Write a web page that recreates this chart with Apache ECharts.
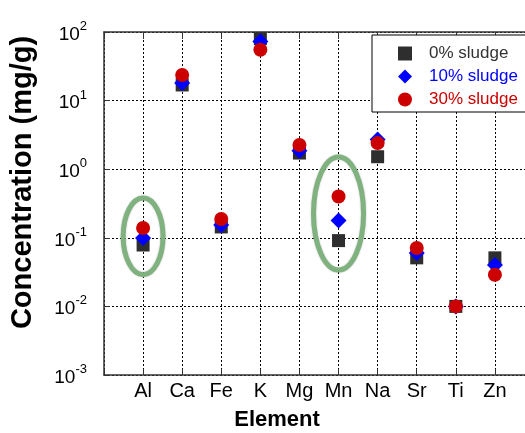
<!DOCTYPE html>
<html><head><meta charset="utf-8">
<script src="https://cdn.jsdelivr.net/npm/echarts@6/dist/echarts.min.js"></script>
<style>html,body{margin:0;padding:0;background:#fff}#c{width:525px;height:433px}</style>
</head><body><div id="c"></div>
<script>
// ---- data ----
const elements = ['Al','Ca','Fe','K','Mg','Mn','Na','Sr','Ti','Zn'];
const sludge0  = [0.0785, 16.9, 0.144, 80, 1.72, 0.091, 1.52, 0.051, 0.010, 0.051];
const sludge10 = [0.099,  18.0, 0.154, 73, 1.86, 0.178, 2.70, 0.060, 0.010, 0.040];
const sludge30 = [0.139,  23.6, 0.188, 55, 2.25, 0.40,  2.40, 0.071, 0.010, 0.029];
const seriesNames = ['0% sludge','10% sludge','30% sludge'];
const yTickValues = [0.001, 0.01, 0.1, 1, 10, 100];
// highlighted elements (green ellipses), value range covered
const highlightElements = ['Al','Mn'];
const highlightLow  = [0.029, 0.034];
const highlightHigh = [0.38, 1.51];

// ---- chart ----
const FONT = '"Liberation Sans", Arial, sans-serif';
const cats = [''].concat(elements, ['']);
const chart = echarts.init(document.getElementById('c'), null, {renderer:'canvas'});
const dotted = {color:'#000', width:1, type:[2,2]};
const axisLine = {show:true, lineStyle:{color:'#333', width:1.5}};
function pairs(vals){ return elements.map((e,i)=>[e, vals[i]]); }

const option = {
  animation:false,
  backgroundColor:'#fff',
  textStyle:{fontFamily:FONT},
  grid:{left:104, top:32, width:430, height:343, containLabel:false, outerBoundsMode:'none'},
  legend:{
    orient:'vertical', left:372, top:35,
    backgroundColor:'#fff', borderColor:'#000', borderWidth:1,
    padding:[10,50,4,26], itemGap:6, itemWidth:14, itemHeight:14,
    textStyle:{fontFamily:FONT, fontSize:17, padding:[0,0,0,12]},
    data:[
      {name:seriesNames[0], icon:'rect', textStyle:{color:'#333'}},
      {name:seriesNames[1], icon:'diamond', textStyle:{color:'#0000ff'}},
      {name:seriesNames[2], icon:'circle', textStyle:{color:'#cc0000'}}
    ]
  },
  xAxis:[{
    type:'category', data:cats, boundaryGap:false, position:'bottom',
    axisLine:axisLine,
    axisTick:{show:true, inside:true, length:6, interval:0, lineStyle:{color:'#333'}},
    axisLabel:{interval:0, fontSize:20, color:'#000', margin:6, fontFamily:FONT},
    splitLine:{show:true, interval:0, lineStyle:dotted},
    name:'Element', nameLocation:'middle', nameGap:34,
    nameTextStyle:{fontSize:22, fontWeight:'bold', color:'#000', fontFamily:FONT, padding:[0,84,0,0]}
  },{
    type:'category', data:cats, boundaryGap:false, position:'top',
    axisLine:axisLine,
    axisTick:{show:true, inside:true, length:7, interval:0, lineStyle:{color:'#333'}},
    axisLabel:{show:false}, splitLine:{show:false}
  }],
  yAxis:{
    type:'log', logBase:10, min:yTickValues[0], max:yTickValues[yTickValues.length-1],
    axisLine:axisLine,
    axisTick:{show:true, inside:true, length:6, lineStyle:{color:'#333'}},
    minorTick:{show:false},
    splitLine:{show:true, lineStyle:dotted},
    axisLabel:{
      margin:17, color:'#000', fontFamily:FONT,
      formatter:function(v){ const e = Math.round(Math.log10(v)); return '{b|10}{s|' + e + '}'; },
      rich:{
        b:{fontSize:19, fontFamily:FONT, color:'#000', verticalAlign:'bottom', lineHeight:24},
        s:{fontSize:13, fontFamily:FONT, color:'#000', verticalAlign:'top', lineHeight:13}
      }
    },
    name:'Concentration (mg/g)', nameLocation:'middle', nameGap:67,
    nameTextStyle:{fontSize:29, fontWeight:'bold', color:'#000', fontFamily:FONT, padding:[0,0,0,42]}
  },
  series:[
    {name:seriesNames[0], type:'scatter', symbol:'rect', symbolSize:13, z:2,
     itemStyle:{color:'#2e2e2e', opacity:1}, data:pairs(sludge0)},
    {name:seriesNames[1], type:'scatter', symbol:'diamond', symbolSize:16, z:3,
     itemStyle:{color:'#0000ff', opacity:1}, data:pairs(sludge10)},
    {name:seriesNames[2], type:'scatter', symbol:'circle', symbolSize:14, z:4,
     itemStyle:{color:'#cc0000', opacity:1}, data:pairs(sludge30)}
  ]
};
chart.setOption(option);

// green ellipses around highlighted elements
const halfWidthCats = [0.51, 0.64];
const step = chart.convertToPixel({xAxisIndex:0}, elements[1]) - chart.convertToPixel({xAxisIndex:0}, elements[0]);
const graphics = highlightElements.map(function(el, i){
  const top = chart.convertToPixel({gridIndex:0}, [el, highlightHigh[i]]);
  const bot = chart.convertToPixel({gridIndex:0}, [el, highlightLow[i]]);
  return {
    type:'ellipse', z:10,
    shape:{cx:top[0], cy:(top[1]+bot[1])/2, rx:halfWidthCats[i]*step, ry:(bot[1]-top[1])/2},
    style:{fill:'none', stroke:'#7fb27f', lineWidth:5, shadowBlur:2, shadowColor:'rgba(0,0,0,0.25)'}
  };
});
chart.setOption({graphic:graphics});
</script>
</body></html>
